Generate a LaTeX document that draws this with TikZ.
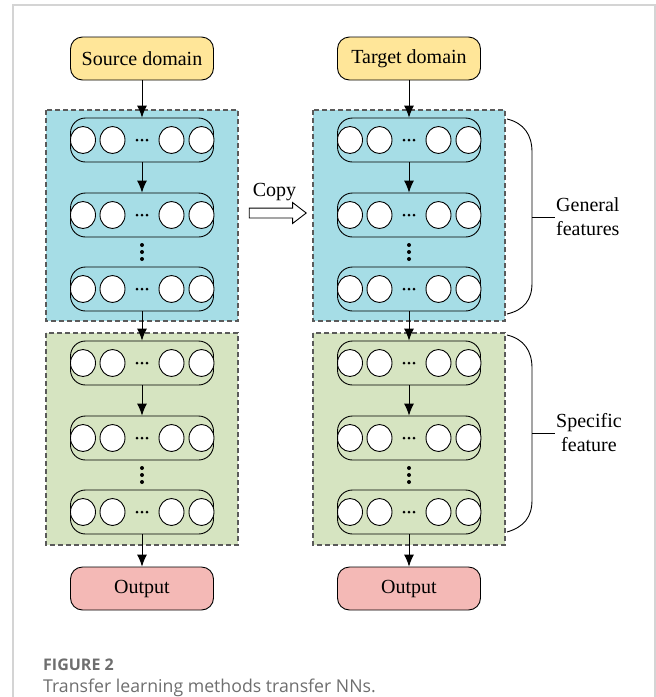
\documentclass[tikz,border=0pt]{standalone}
\usepackage{fontspec}
\setmainfont{Liberation Serif}
\newfontfamily\capfont{Open Sans}
\usetikzlibrary{arrows.meta,positioning,shapes.geometric,shapes.arrows}

\definecolor{domyellow}{HTML}{FFE699}
\definecolor{featblue}{HTML}{A6DDE6}
\definecolor{featgreen}{HTML}{D6E4C1}
\definecolor{outpink}{HTML}{F4B9B6}
\definecolor{regiongray}{HTML}{5A5A5A}
\definecolor{framegray}{HTML}{D4D4D4}
\definecolor{capgray}{HTML}{6E6E6E}

\tikzset{
  box/.style={draw, rounded corners=12pt, minimum width=143pt, minimum height=43pt,
    line width=0.9pt, font=\fontsize{20}{24}\selectfont},
  layerbox/.style={draw, rounded corners=15pt, minimum width=143pt, minimum height=44pt, line width=0.9pt},
  neuron/.style={draw, ellipse, fill=white, minimum width=25pt, minimum height=27pt,
    inner sep=0pt, line width=0.9pt},
  region/.style={draw=regiongray, dash pattern=on 5pt off 3pt, line width=1.1pt},
  conn/.style={-{Latex[length=12pt,width=10pt]}, line width=0.9pt},
  brace/.style={line width=0.9pt},
  lbl/.style={font=\fontsize{20}{24}\selectfont, align=center}
}

\begin{document}
\begin{tikzpicture}[x=1pt,y=-1pt]
\useasboundingbox (0,0) rectangle (656,697);
% frame
\draw[framegray, line width=1.3pt] (13,697) -- (13,5) -- (655,5) -- (655,697);

% feature regions
\draw[region, fill=featblue] (46,110) rectangle (238,321);
\draw[region, fill=featgreen] (46,333) rectangle (238,545);
\draw[region, fill=featblue] (313,110) rectangle (505,321);
\draw[region, fill=featgreen] (313,333) rectangle (505,545);

% domains and outputs
\node[box, fill=domyellow] (srcdom) at (142,58.5) {Source domain};
\node[box, fill=domyellow] (tgtdom) at (409,58.5) {Target domain};
\node[box, fill=outpink] (srcout) at (142,588.5) {Output};
\node[box, fill=outpink] (tgtout) at (409,588.5) {Output};

% layers
\foreach \col/\cx in {s/142, t/409}{
  \foreach \i/\cy in {1/140, 2/215, 3/289, 4/363, 5/438, 6/512}{
    \node[layerbox] (\col l\i) at (\cx,\cy) {};
    \foreach \k/\dx in {a/-59, b/-29.5, c/29.5, d/59.5}
      \node[neuron] (\col l\i\k) at ([xshift=\dx pt]\col l\i.center) {};
    \foreach \dx in {-5,0,5}
      \fill ([xshift=\dx pt]\col l\i.center) circle (1.5pt);
  }
  % vertical dots
  \foreach \cy in {245,252,259,468,475,482}
    \fill (\cx,\cy) circle (2pt);
}

% arrows
\draw[conn] (srcdom) -- (sl1);
\draw[conn] (tgtdom) -- (tl1);
\foreach \col in {s,t}{
  \draw[conn] (\col l1) -- (\col l2);
  \draw[conn] (\col l3) -- (\col l4);
  \draw[conn] (\col l4) -- (\col l5);
}
\draw[conn] (sl6) -- (srcout);
\draw[conn] (tl6) -- (tgtout);

% copy
\node[single arrow, draw, fill=white, line width=0.9pt, minimum height=57pt,
  single arrow head extend=5.5pt, single arrow tip angle=75,
  inner xsep=0pt, inner ysep=4.5pt] (copyarr) at (274.5,213) {};
\node[lbl, above=3pt of copyarr] (copylbl) {Copy};

% braces
\draw[brace] (507,119) .. controls (524,123) and (532,135) .. (532,152)
  -- (532,283) .. controls (532,300) and (524,310) .. (507,314);
\node[lbl, anchor=west, inner xsep=1pt] (genlbl) at (555,217) {General\\features};
\draw[brace] (532,217) -- (genlbl.west);

\draw[brace] (507,335) .. controls (524,339) and (532,351) .. (532,368)
  -- (532,500) .. controls (532,517) and (524,527) .. (507,532);
\node[lbl, anchor=west, inner xsep=1pt] (spelbl) at (555,433) {Specific\\feature};
\draw[brace] (532,433) -- (spelbl.west);

% caption
\node[anchor=base west, inner sep=0pt, text=capgray,
  font=\capfont\bfseries\fontsize{16}{19}\selectfont] (figno) at (43,670) {FIGURE 2};
\node[anchor=base west, inner sep=0pt, text=capgray,
  font=\capfont\fontsize{17.7}{21}\selectfont] (figcap) at (43,692) {Transfer learning methods transfer NNs.};
\end{tikzpicture}
\end{document}
